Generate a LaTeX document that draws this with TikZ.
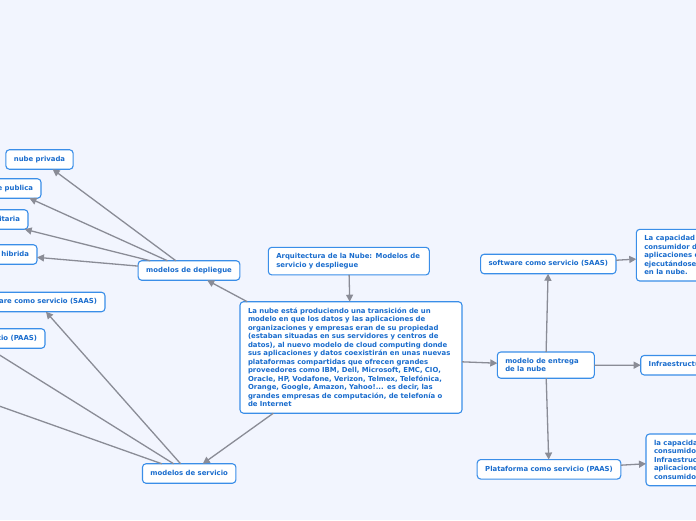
\documentclass[tikz,border=0pt]{standalone}
\usepackage{fontspec}
\setmainfont{DejaVu Sans}
\usetikzlibrary{arrows.meta}
\definecolor{bgc}{RGB}{242,245,254}
\definecolor{bordc}{RGB}{58,142,232}
\definecolor{txtc}{RGB}{25,108,205}
\definecolor{arrc}{RGB}{138,140,150}
\tikzset{
 box/.style={draw=bordc, fill=white, line width=1.1pt, rounded corners=3.5pt, text=txtc,
   font=\fontsize{6.9}{8.5}\selectfont\bfseries, inner xsep=8pt, outer sep=0pt},
 one/.style={box, inner ysep=0pt, text height=5.1pt, text depth=1.6pt, minimum height=19.5pt},
 multi/.style={box, align=left, inner ysep=6.2pt},
 conn/.style={draw=arrc, line width=1.3pt, -{Triangle[length=7pt,width=7pt]}},
}
\begin{document}
\begin{tikzpicture}[x=1pt,y=-1pt]
\fill[bgc] (0,0) rectangle (696,520);
\clip (0,0) rectangle (696,520);
% center
\node[multi, anchor=north west, text width=145pt] (arq) at (268.3,247.3) {Arquitectura de la Nube: Modelos de\\servicio y despliegue};
\node[multi, anchor=north west, text width=206pt] (main) at (240,301.7) {La nube está produciendo una transición de un\\
modelo en que los datos y las aplicaciones de\\
organizaciones y empresas eran de su propiedad\\
(estaban situadas en sus servidores y centros de\\
datos), al nuevo modelo de cloud computing donde\\
sus aplicaciones y datos coexistirán en unas nuevas\\
plataformas compartidas que ofrecen grandes\\
proveedores como IBM, Dell, Microsoft, EMC, CIO,\\
Oracle, HP, Vodafone, Verizon, Telmex, Telefónica,\\
Orange, Google, Amazon, Yahoo!... es decir, las\\
grandes empresas de computación, de telefonía o\\
de Internet};
% left: despliegue
\node[one] (dep) at (189,270.5) {modelos de depliegue};
\node[one] (priv) at (39.5,159.5) {nube privada};
\node[one, anchor=east] (pub) at (41,188.5) {nube publica};
\node[one, anchor=east] (com) at (28,219.5) {nube comunitaria};
\node[one, anchor=east] (hib) at (37,254.5) {nube hibrida};
% left: servicio
\node[one] (serv) at (189.2,473.5) {modelos de servicio};
\node[one, anchor=east] (saasL) at (105,302) {software como servicio (SAAS)};
\node[one, anchor=east] (paasL) at (45,338.5) {Plataforma como servicio (PAAS)};
\coordinate (iaasL) at (-60,385);
% right
\node[multi, anchor=north west, text width=81pt] (ent) at (497.3,352) {modelo de entrega\\de la nube};
\node[one] (saasR) at (548.3,264) {software como servicio (SAAS)};
\node[one] (paasR) at (549,469.3) {Plataforma como servicio (PAAS)};
\node[one, anchor=west] (iaasR) at (640.7,365.2) {Infraestructura como servicio (IAAS)};
\node[multi, anchor=north west] (cap1) at (636.3,229.3) {La capacidad ofrecida al\\consumidor de utilizar las\\aplicaciones del proveedor\\ejecutándose en infraestructura\\en la nube.};
\node[multi, anchor=north west] (cap3) at (646,434) {la capacidad ofrecida al\\consumidor es desplegar en la\\Infraestructura de la nube\\aplicaciones creadas por el\\consumidor.};
% connectors
\draw[conn] (arq) -- (main);
\draw[conn] (main) -- (dep);
\draw[conn] (main) -- (serv);
\draw[conn] (main) -- (ent);
\draw[conn] (dep) -- (priv);
\draw[conn] (dep) -- (pub);
\draw[conn] (dep) -- (com);
\draw[conn] (dep) -- (hib);
\draw[conn] (serv) -- (saasL);
\draw[conn] (serv) -- (paasL);
\draw[conn] (serv) -- (iaasL);
\draw[conn] (ent) -- (saasR);
\draw[conn] (ent) -- (iaasR);
\draw[conn] (ent) -- (paasR);
\draw[conn] (saasR) -- (cap1);
\draw[conn] (paasR) -- (cap3);
\end{tikzpicture}
\end{document}
